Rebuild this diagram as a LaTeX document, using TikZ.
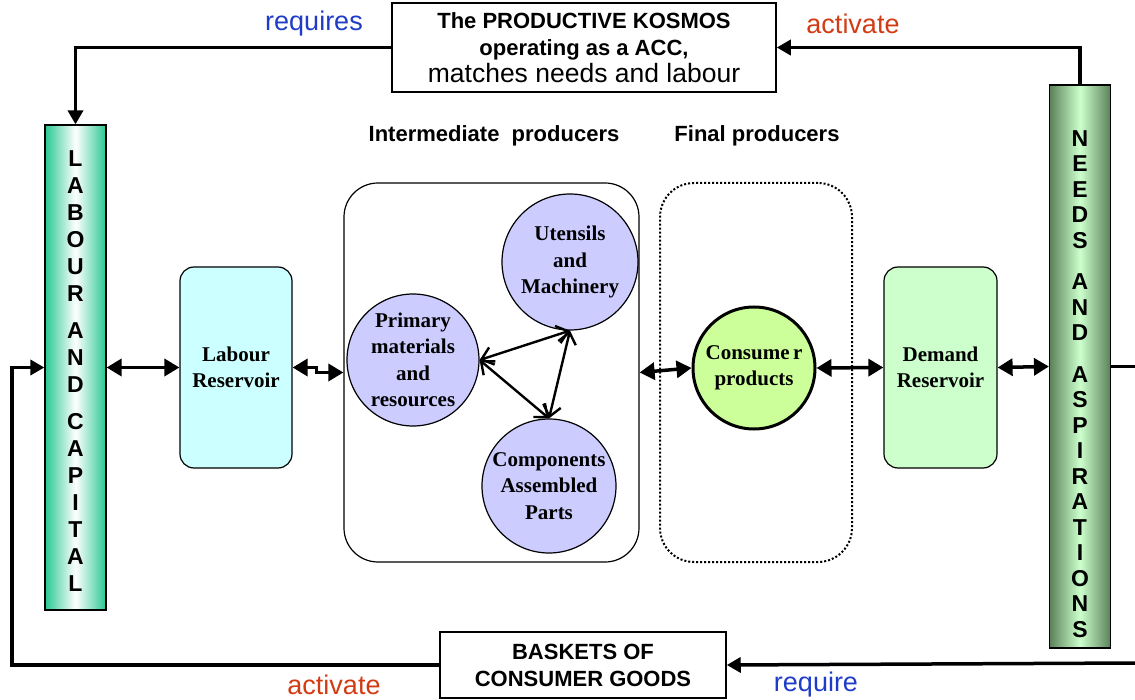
\documentclass[tikz,border=0pt]{standalone}
\usepackage{fontspec}
\setmainfont{Liberation Serif}
\setsansfont{Liberation Sans}
\usetikzlibrary{positioning,arrows.meta,shapes.geometric}
\definecolor{labgreen}{RGB}{40,200,145}
\definecolor{needdark}{RGB}{90,130,90}
\definecolor{needlight}{RGB}{205,255,205}
\definecolor{resvcyan}{RGB}{204,255,255}
\definecolor{demgreen}{RGB}{204,255,204}
\definecolor{lavender}{RGB}{204,204,255}
\definecolor{limegreen}{RGB}{204,255,153}
\definecolor{reqblue}{RGB}{30,60,200}
\definecolor{actred}{RGB}{210,60,20}

\begin{document}
\begin{tikzpicture}[x=1pt, y=-1pt,
    every node/.style={inner sep=0pt},
    headlabel/.style={font=\fontsize{22}{27}\selectfont\sffamily\bfseries, align=center},
    flowword/.style={font=\fontsize{27}{30}\selectfont\sffamily},
    serifbold/.style={font=\fontsize{21}{26.5}\selectfont\bfseries, align=center},
    reservoir/.style={draw, rounded corners=14pt, line width=1.2pt, minimum width=112pt, minimum height=201pt, serifbold},
    producer/.style={circle, draw, fill=lavender, line width=1.2pt, serifbold},
    sidebar/.style={draw, line width=1.2pt, minimum width=61pt},
    barletters/.style={font=\fontsize{23}{27}\selectfont\sffamily\bfseries, align=center},
    mainlink/.style={line width=3.5pt, {Triangle[length=15pt,width=17pt]}-{Triangle[length=15pt,width=17pt]}},
    feedback/.style={line width=3.5pt, -{Triangle[length=14pt,width=15pt]}},
    exchange/.style={line width=2.4pt, {Straight Barb[length=11pt,width=18pt]}-{Straight Barb[length=11pt,width=18pt]}}
]
    \useasboundingbox (0,0) rectangle (1135,700);
    % Side bars
    \node[sidebar, minimum height=485pt, left color=labgreen, right color=labgreen, middle color=white] (labour) at (75.5,367.5) {};
    \node[barletters] (labourtext) at (75.5,371) {L\\A\\B\\O\\U\\R\\[10pt]A\\N\\D\\[10pt]C\\A\\P\\I\\T\\A\\L};
    \node[sidebar, minimum height=563pt, left color=needdark, right color=needdark, middle color=needlight] (needs) at (1080,366.5) {};
    \node[barletters, font=\fontsize{23}{25.5}\selectfont\sffamily\bfseries] (needstext) at (1080,384) {N\\E\\E\\D\\S\\[16pt]A\\N\\D\\[16pt]A\\S\\P\\I\\R\\A\\T\\I\\O\\N\\S};
    % Top and bottom boxes
    \node[draw, line width=1.5pt, minimum width=384pt, minimum height=89pt, align=center, font=\fontsize{22}{27}\selectfont\sffamily] (kosmos) at (584,47.5)
        {\textbf{The PRODUCTIVE KOSMOS}\\\textbf{operating as a ACC,}\\{\fontsize{26.5}{27}\selectfont matches needs and labour}};
    \node[draw, line width=1.5pt, minimum width=286pt, minimum height=66pt, headlabel] (baskets) at (583,665) {BASKETS OF\\CONSUMER GOODS};
    % Producers
    \node[headlabel] (interlabel) at (494,136) {Intermediate\ \ producers};
    \node[headlabel] (finallabel) at (757,136) {Final producers};
    \node[draw, rounded corners=34pt, line width=1.2pt, minimum width=295pt, minimum height=379pt] (inter) at (491.5,372.5) {};
    \node[draw, dotted, rounded corners=34pt, line width=2pt, minimum width=192pt, minimum height=379pt] (final) at (756,372.5) {};
    \node[producer, minimum size=136pt] (utensils) at (570,262) {Utensils\\and\\Machinery};
    \node[producer, minimum size=132pt] (primary) at (413,360) {Primary\\materials\\and\\resources};
    \node[producer, minimum size=134pt] (components) at (549,486) {Components\\Assembled\\Parts};
    \node[producer, minimum size=122pt, fill=limegreen, line width=3pt] (consumer) at (754,368) {Consume\,r\\products};
    % Reservoirs
    \node[reservoir, fill=resvcyan] (labres) at (236,367.5) {Labour\\Reservoir};
    \node[reservoir, fill=demgreen, minimum width=113pt] (demres) at (940.5,367.5) {Demand\\Reservoir};
    % Flow words
    \node[flowword, text=reqblue] (requires) at (314,24) {requires};
    \node[flowword, text=actred] (activtop) at (853,24) {activate};
    \node[flowword, text=actred] (activbot) at (334,685) {activate};
    \node[flowword, text=reqblue] (require) at (816,685) {require};
    % Loose ends
    \coordinate (leftturn) at (12,367.5);
    \coordinate (rightend) at (1135,366.5);
    \coordinate (bottomend) at (1135,663);
    % Connectors
    \draw[mainlink] (labour.east) -- (labres.west);
    \draw[mainlink] (labres.east) -- ++(24,0) |- (inter.west);
    \draw[mainlink] (inter.east) -- (consumer.west);
    \draw[mainlink] (consumer.east) -- (demres.west);
    \draw[mainlink] (demres.east) -- (needs.west);
    \draw[exchange] (primary.east) -- (utensils.south);
    \draw[exchange] (primary.east) -- (components.north);
    \draw[exchange] (utensils.south) -- (components.north);
    \draw[feedback] (kosmos.west) -| (labour.north);
    \draw[feedback] (needs.north) |- (kosmos.east);
    \draw[line width=3.5pt] (needs.east) -- (rightend);
    \draw[feedback] (bottomend) -- (baskets.east);
    \draw[feedback] (baskets.west) -| (leftturn) -- (labour.west);
\end{tikzpicture}
\end{document}
